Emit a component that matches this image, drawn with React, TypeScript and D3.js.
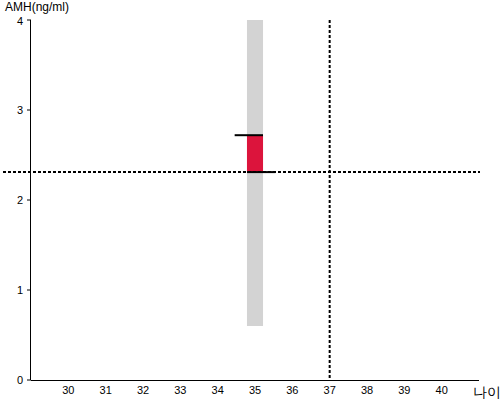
import React from "react";
import * as d3 from "d3";

const xTicks = [30, 31, 32, 33, 34, 35, 36, 37, 38, 39, 40];
const yTicks = [0, 1, 2, 3, 4];
const ages = [35];
const rangeLow = [0.6];
const rangeHigh = [4];
const amhPrev = [2.72];
const amhNow = [2.31];
const refAge = 37;
const refAmh = 2.31;

export default function App() {
  const W = 500, H = 400;
  const x = d3.scaleLinear().domain([29, 41]).range([31, 479]);
  const y = d3.scaleLinear().domain([0, 4]).range([380, 20]);
  const halfW = 0.215;
  const ext = 0.33;
  const font = "Arial, 'Liberation Sans', sans-serif";
  return (
    <svg width={W} height={H} style={{ position: "absolute", left: 0, top: 0 }} fontFamily={font}>
      <rect width={W} height={H} fill="#fff" />
      {ages.map((a, i) => (
        <g key={i}>
          <rect x={x(a - halfW)} y={y(rangeHigh[i])} width={x(a + halfW) - x(a - halfW)} height={y(rangeLow[i]) - y(rangeHigh[i])} fill="#d3d3d3" />
          <rect x={x(a - halfW)} y={y(amhPrev[i])} width={x(a + halfW) - x(a - halfW)} height={y(amhNow[i]) - y(amhPrev[i])} fill="#dc143c" />
        </g>
      ))}
      <line x1={3} x2={480} y1={y(refAmh)} y2={y(refAmh)} stroke="#000" strokeWidth={2} strokeDasharray="3,2" />
      <line x1={x(refAge)} x2={x(refAge)} y1={y(4)} y2={y(0)} stroke="#000" strokeWidth={2} strokeDasharray="3,2" />
      {ages.map((a, i) => (
        <g key={"l" + i}>
          <line x1={x(a - halfW - ext)} x2={x(a + halfW)} y1={y(amhPrev[i])} y2={y(amhPrev[i])} stroke="#000" strokeWidth={2} />
          <line x1={x(a - halfW)} x2={x(a + halfW + ext)} y1={y(amhNow[i])} y2={y(amhNow[i])} stroke="#000" strokeWidth={2} />
        </g>
      ))}
      <line x1={31} x2={479} y1={380.5} y2={380.5} stroke="#000" />
      <line x1={30.5} x2={30.5} y1={20} y2={380} stroke="#000" />
      {yTicks.map((t) => (
        <g key={t}>
          <line x1={27} x2={31} y1={y(t)} y2={y(t)} stroke="#000" />
          <text x={23} y={t === 4 ? y(t) + 1 : y(t)} dy="0.35em" textAnchor="end" fontSize={11} fill="#000">{t}</text>
        </g>
      ))}
      {xTicks.map((t) => (
        <text key={t} x={x(t)} y={390} dy="0.35em" textAnchor="middle" fontSize={11} fill="#000">{t}</text>
      ))}
      <text x={5} y={11} fontSize={12} fill="#000">AMH(ng/ml)</text>
      <text x={473} y={397} fontSize={14} fill="#000">나이</text>
    </svg>
  );
}
